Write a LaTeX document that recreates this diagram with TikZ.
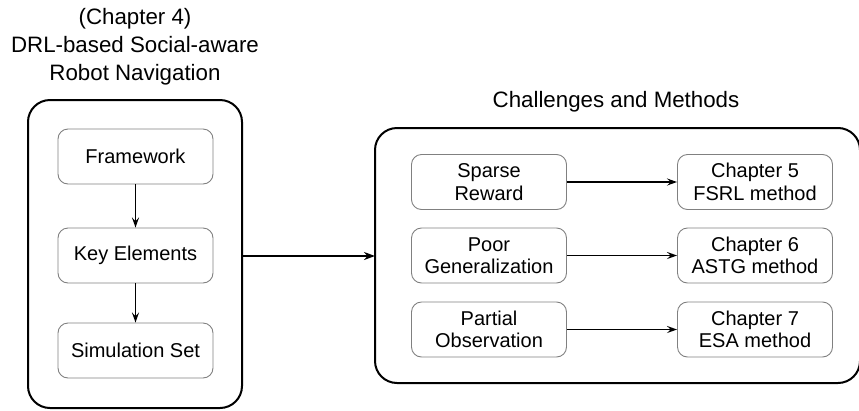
\documentclass[tikz,border=0pt]{standalone}
\usepackage{fontspec}
\setmainfont{Liberation Sans}
\usetikzlibrary{arrows.meta}
\begin{document}
\begin{tikzpicture}[x=1pt,y=-1pt,
  outer/.style={draw=black,line width=2pt,rounded corners=22pt},
  inner/.style={draw=black!50,line width=0.9pt,rounded corners=10pt,
    minimum width=155pt,minimum height=55pt,inner sep=0pt,align=center,
    font=\fontsize{20}{22.5}\selectfont},
  title/.style={align=center,font=\fontsize{22.3}{28}\selectfont},
  link/.style={line width=1.6pt,-{Stealth[length=10pt,width=7pt,inset=3.5pt]}},
  biglink/.style={line width=2.5pt,-{Stealth[length=11pt,width=8pt,inset=3.5pt]}}]
\useasboundingbox (0,0) rectangle (859,410);

% left group: DRL navigation
\node[title] (ltitle) at (135,47) {(Chapter 4)\\DRL-based Social-aware\\Robot Navigation};
\draw[outer] (28,100) rectangle (242,408);
\coordinate (lright) at (242,256);
\node[inner] (fw)  at (135.5,156.5) {Framework};
\node[inner] (key) at (135.5,255.5) {Key Elements};
\node[inner] (sim) at (135.5,350.5) {Simulation Set};
\draw[link] (fw) -- (key);
\draw[link] (key) -- (sim);

% right group: challenges and methods
\node[title] (rtitle) at (616,102) {Challenges and Methods};
\draw[outer] (375,128) rectangle (860,383);
\coordinate (rleft) at (375,256);

\node[inner] (c1) at (489,182) {Sparse\\Reward};
\node[inner] (c2) at (489,255.5) {Poor\\Generalization};
\node[inner] (c3) at (489,329.5) {Partial\\Observation};
\node[inner] (m1) at (755,182) {Chapter 5\\FSRL method};
\node[inner] (m2) at (755,255.5) {Chapter 6\\ASTG method};
\node[inner] (m3) at (755,329.5) {Chapter 7\\ESA method};
\draw[link] (c1) -- (m1);
\draw[link] (c2) -- (m2);
\draw[link] (c3) -- (m3);

\draw[biglink] (lright) -- (rleft);
\end{tikzpicture}
\end{document}
